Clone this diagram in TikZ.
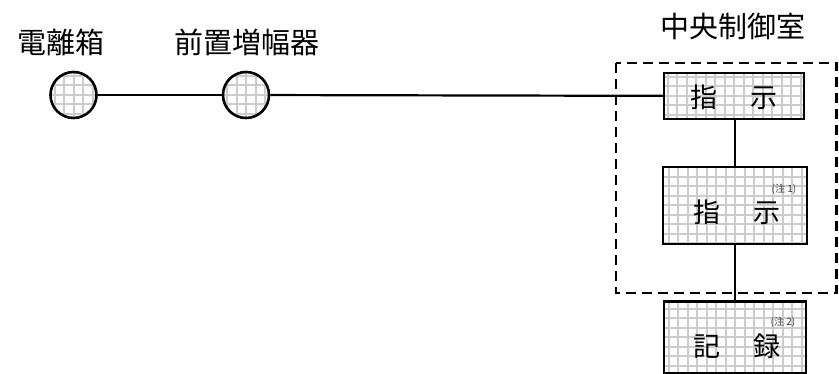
\documentclass[tikz,border=0pt]{standalone}
\usepackage{fontspec}
\setmainfont{Noto Sans CJK JP}
\usetikzlibrary{calc}
\tikzset{
  grd/.style = {
    path picture={\draw[gray!40, line width=2pt]
      ([shift={(-3pt,-3pt)}]path picture bounding box.south west) grid[step=9.5pt]
      (path picture bounding box.north east);}
  },
  unit/.style = {
    circle, draw=black, line width=2.6pt, fill=white, grd,
    minimum size=46pt, inner sep=0pt
  },
  panel/.style = {
    rectangle, draw=black, line width=2.2pt, fill=white, grd,
    inner sep=0pt
  },
  wire/.style  = {line width=2.2pt, black},
  room/.style  = {dash pattern=on 10pt off 6pt, line width=2.6pt, black},
  ttl/.style   = {font=\fontsize{29pt}{31pt}\selectfont, inner sep=0pt},
  txt/.style   = {font=\fontsize{27pt}{29pt}\selectfont, inner sep=0pt},
  note/.style  = {font=\fontsize{10pt}{11pt}\selectfont, inner sep=0pt, text=black!75}
}
\begin{document}
\begin{tikzpicture}[x=1pt, y=-1pt]
  \useasboundingbox (0,0) rectangle (839,374);

  %% Dashed frame of the control room
  \coordinate (Rnw) at (616, 63);
  \coordinate (Rse) at (836.5, 293);
  \draw[room] (Rnw) rectangle (Rse);

  %% Field units
  \node[unit] (det) at ( 73.5, 95) {};
  \node[unit] (amp) at (246.0, 95) {};

  %% Indicators and recorder
  \node[panel, minimum width=140pt, minimum height=46pt] (ind1) at (734, 96)    {};
  \node[panel, minimum width=144pt, minimum height=77pt] (ind2) at (735, 205.5) {};
  \node[panel, minimum width=142pt, minimum height=72pt] (rec)  at (735, 337.5) {};

  %% Connections
  \draw[wire] (det) -- (amp);
  \draw[wire] (amp) -- (ind1);
  \draw[wire] (ind2.north |- ind1.south) -- (ind2.north);
  \draw[wire] (ind2) -- (rec);

  %% Texts
  \node[ttl] (tdet) at ( 61, 42) {電離箱};
  \node[ttl] (tamp) at (247, 42) {前置増幅器};
  \node[ttl] (troom) at (733, 26) {中央制御室};
  \node[txt] at ($(ind1.center)+(0,1)$) {指\hspace{1.25em}示};
  \node[txt] at ($(ind2.center)+(2,7)$) {指\hspace{1.25em}示};
  \node[txt] at ($(rec.center)+(2,9)$)  {記\hspace{1.25em}録};
  \node[note] at (784, 189) {(注 1)};
  \node[note] at (783, 322) {(注 2)};
\end{tikzpicture}
\end{document}
